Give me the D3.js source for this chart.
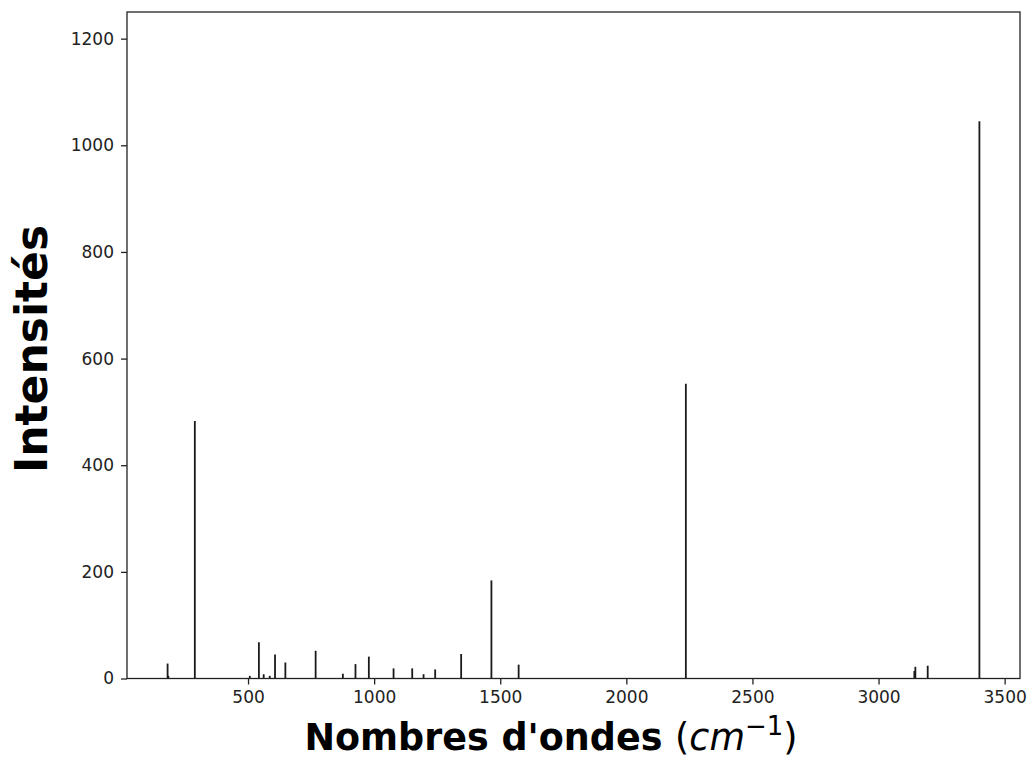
<!DOCTYPE html>
<html>
<head>
<meta charset="utf-8">
<script src="https://cdn.jsdelivr.net/npm/d3@7"></script>
<style>
  body { margin: 0; background: #fff; }
  text { font-family: "DejaVu Sans", sans-serif; }
</style>
</head>
<body>
<svg id="chart"></svg>
<script>
// spectrum peaks
var wavenumbers = [181, 184, 289, 507, 543, 562, 586, 607, 648, 768, 876, 926, 979,
                   1077, 1151, 1196, 1242, 1345, 1465, 1573, 2236, 3142, 3146, 3195, 3400];
var intensities = [28, 5, 483, 5, 68, 8, 5, 45, 30, 52, 9, 27, 41,
                   19, 19, 8, 17, 46, 184, 26, 553, 14, 22, 24, 1045];
var xTicks = [500, 1000, 1500, 2000, 2500, 3000, 3500];
var yTicks = [0, 200, 400, 600, 800, 1000, 1200];

var width = 1034, height = 765;
var margin = { top: 12, right: 14, bottom: 86.5, left: 127 };
var w = width - margin.left - margin.right,
    h = height - margin.top - margin.bottom;

var svg = d3.select("#chart").attr("width", width).attr("height", height);
var g = svg.append("g").attr("transform", "translate(" + margin.left + "," + margin.top + ")");

// matplotlib style 5% margins on x
var ext = d3.extent(wavenumbers);
var pad = (ext[1] - ext[0]) * 0.05;
var x = d3.scaleLinear().domain([ext[0] - pad, ext[1] + pad]).range([0, w]);
var y = d3.scaleLinear().domain([0, 1250]).range([h, 0]);

var peaks = wavenumbers.map(function(d, i) { return { x: d, y: intensities[i] }; });

g.selectAll("line.peak")
    .data(peaks)
    .enter().append("line")
    .attr("class", "peak")
    .attr("x1", function(d) { return x(d.x); })
    .attr("x2", function(d) { return x(d.x); })
    .attr("y1", y(0))
    .attr("y2", function(d) { return y(d.y); })
    .attr("stroke", "#1a1a1a")
    .attr("stroke-width", 1.8);

var xAxis = g.append("g")
    .attr("transform", "translate(0," + h + ")")
    .call(d3.axisBottom(x).tickValues(xTicks).tickSize(6).tickPadding(6).tickFormat(d3.format("d")));
var yAxis = g.append("g")
    .call(d3.axisLeft(y).tickValues(yTicks).tickSize(6).tickPadding(7).tickFormat(d3.format("d")));

[xAxis, yAxis].forEach(function(a) {
    a.select(".domain").remove();
    a.selectAll(".tick line").attr("stroke", "#222").attr("stroke-width", 1.3);
    a.selectAll(".tick text")
        .attr("fill", "#222")
        .style("font-size", "17px")
        .style("font-family", "'DejaVu Sans', sans-serif");
});

// frame
g.append("rect")
    .attr("x", 0).attr("y", 0)
    .attr("width", w).attr("height", h)
    .attr("fill", "none")
    .attr("stroke", "#222")
    .attr("stroke-width", 1.3);

// axis labels
var xl = svg.append("text")
    .attr("x", 551)
    .attr("y", 750)
    .attr("text-anchor", "middle")
    .style("font-size", "36.5px")
    .attr("fill", "#000");
xl.append("tspan").style("font-weight", "bold").text("Nombres d'ondes ");
xl.append("tspan").text("(");
xl.append("tspan").style("font-style", "italic").text("cm");
xl.append("tspan").attr("dy", -15).style("font-size", "26px").text("\u22121");
xl.append("tspan").attr("dy", 15).text(")");

svg.append("text")
    .attr("transform", "translate(47,349) rotate(-90)")
    .attr("text-anchor", "middle")
    .style("font-size", "44px")
    .style("font-weight", "bold")
    .attr("fill", "#000")
    .text("Intensités");
</script>
</body>
</html>
